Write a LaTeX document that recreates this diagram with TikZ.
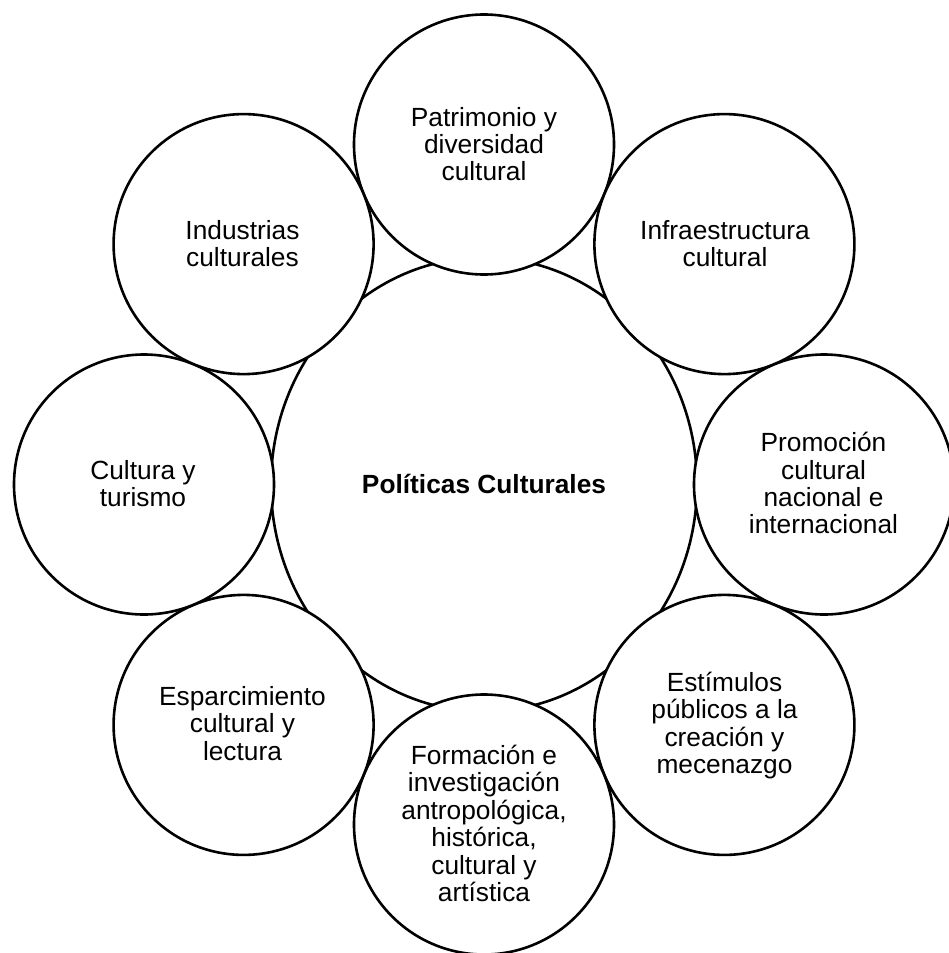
\documentclass[tikz,border=0pt]{standalone}
\usepackage{fontspec}
\setmainfont{Liberation Sans}
\usetikzlibrary{shapes.geometric}
\begin{document}
\begin{tikzpicture}[x=1pt,y=-1pt,
  outer/.style={circle,draw=black,fill=white,line width=2.6pt,minimum size=260pt,inner sep=0pt},
  core/.style={ellipse,draw=black,fill=white,line width=2.6pt,minimum width=426pt,minimum height=454pt,inner sep=0pt},
  lbl/.style={align=center,anchor=base,inner sep=0pt,font=\fontsize{26.3pt}{27.4pt}\selectfont},
  corelbl/.style={anchor=base,inner sep=0pt,font=\fontsize{26.3pt}{27.4pt}\selectfont\bfseries}]
\fill[white] (0,0) rectangle (948,953);
\useasboundingbox (0,0) rectangle (948,953);
\node[core] (pc) at (484,484.5) {};
\node[outer] (c1) at (484,144.5) {};
\node[outer] (c2) at (724.4,244.1) {};
\node[outer] (c3) at (824,484.5) {};
\node[outer] (c4) at (724.4,724.9) {};
\node[outer] (c5) at (484,824.5) {};
\node[outer] (c6) at (243.6,724.9) {};
\node[outer] (c7) at (144,484.5) {};
\node[outer] (c8) at (243.6,244.1) {};
\node[corelbl] (tc) at (484,493) {Políticas Culturales};
\node[lbl] (t1) at (484,180.8) {Patrimonio y\\diversidad\\cultural};
\node[lbl] (t2) at (725,266.4) {Infraestructura\\cultural};
\node[lbl] (t3) at (823.5,533.9) {Promoción\\cultural\\nacional e\\internacional};
\node[lbl] (t4) at (724.5,773.7) {Estímulos\\públicos a la\\creación y\\mecenazgo};
\node[lbl] (t5) at (484,901.5) {Formación e\\investigación\\antropológica,\\histórica,\\cultural y\\artística};
\node[lbl] (t6) at (242.5,760.3) {Esparcimiento\\cultural y\\lectura};
\node[lbl] (t7) at (143,506.4) {Cultura y\\turismo};
\node[lbl] (t8) at (242.5,266.9) {Industrias\\culturales};
\end{tikzpicture}
\end{document}
